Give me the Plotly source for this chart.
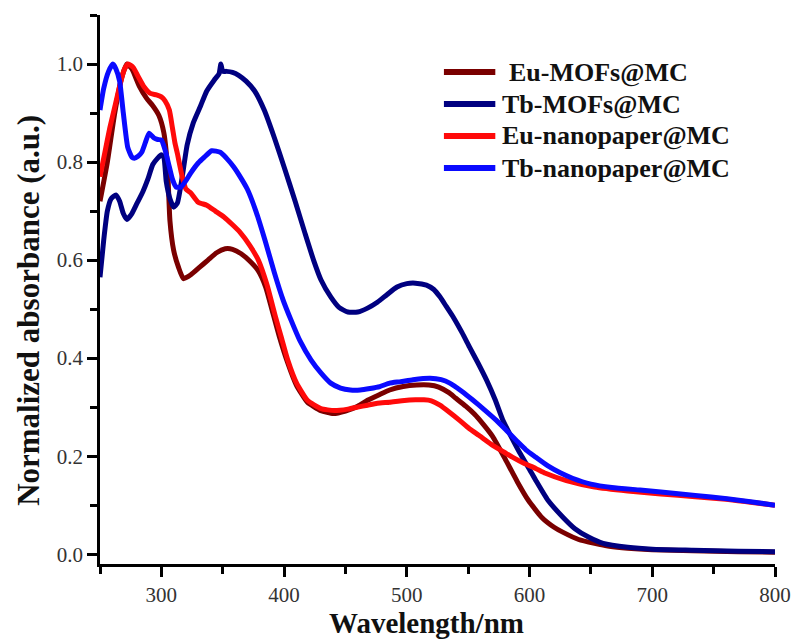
import plotly.graph_objects as go

# UV-vis absorbance spectra, normalized
eu_mof_x = [250, 256, 262, 268, 272, 276, 282, 288, 293, 298, 302, 305, 307, 310, 314, 318, 324, 331, 338, 345,
            352, 358, 365, 372, 379, 385, 390, 396, 403, 410, 419, 430, 440, 450, 460, 468, 478, 486, 497, 508,
            518, 526, 534, 540, 548, 555, 562, 570, 580, 590, 599, 610, 620, 627, 640, 653, 665, 680, 700, 733,
            770, 800]
eu_mof_y = [0.72, 0.80, 0.90, 0.975, 1.0, 0.99, 0.955, 0.93, 0.915, 0.895, 0.86, 0.79, 0.68, 0.62, 0.585, 0.562,
            0.57, 0.585, 0.60, 0.615, 0.623, 0.622, 0.613, 0.598, 0.578, 0.545, 0.50, 0.445, 0.39, 0.345, 0.31,
            0.293, 0.287, 0.292, 0.302, 0.314, 0.326, 0.335, 0.342, 0.345, 0.345, 0.341, 0.330, 0.318, 0.302, 0.286,
            0.266, 0.240, 0.195, 0.148, 0.11, 0.075, 0.055, 0.045, 0.03, 0.022, 0.016, 0.012, 0.009, 0.007,
            0.005, 0.004]

tb_mof_x = [250, 253, 256, 259, 263, 266, 269, 272, 276, 280, 285, 289, 293, 297, 300, 302, 304, 307, 310, 313,
            317, 321, 326, 332, 337, 343, 347, 348.5, 350, 353, 358, 363, 369, 376, 384, 392, 400, 409, 417, 424,
            430, 438, 445, 452, 460, 468, 476, 484, 492, 500, 507, 516, 522, 527, 532, 538, 545, 551, 558, 565,
            572, 578, 585, 592, 600, 605, 615, 627, 637, 648, 660, 680, 700, 733, 770, 800]
tb_mof_y = [0.565, 0.64, 0.70, 0.725, 0.733, 0.72, 0.695, 0.683, 0.695, 0.715, 0.74, 0.765, 0.795, 0.808, 0.815,
            0.81, 0.76, 0.725, 0.708, 0.716, 0.77, 0.835, 0.88, 0.915, 0.945, 0.967, 0.98, 1.0, 0.985, 0.985,
            0.983, 0.977, 0.965, 0.945, 0.905, 0.85, 0.79, 0.72, 0.655, 0.60, 0.56, 0.525, 0.503, 0.494, 0.494,
            0.502, 0.514, 0.53, 0.545, 0.552, 0.553, 0.549, 0.54, 0.525, 0.506, 0.483, 0.452, 0.423, 0.39, 0.355,
            0.315, 0.275, 0.240, 0.207, 0.173, 0.151, 0.11, 0.076, 0.052, 0.035, 0.022, 0.014, 0.01, 0.008,
            0.006, 0.005]

eu_np_x = [250, 254, 258, 262, 266, 270, 273, 277, 281, 286, 291, 296, 300, 303, 306.5, 309, 311, 313, 317, 320,
           324, 330, 337, 344, 351, 358, 364, 372, 379, 386, 393, 398, 403, 410, 419, 430, 441, 452, 460, 468,
           476, 486, 496, 507, 514, 520, 527, 535, 543, 551, 559, 570, 580, 586, 595, 605, 613, 630, 653, 680,
           707, 735, 760, 780, 800]
eu_np_y = [0.77, 0.82, 0.87, 0.912, 0.955, 0.99, 1.0, 0.993, 0.975, 0.953, 0.94, 0.937, 0.933, 0.925, 0.906,
           0.87, 0.84, 0.818, 0.77, 0.745, 0.737, 0.718, 0.712, 0.70, 0.688, 0.672, 0.657, 0.63, 0.6, 0.55, 0.484,
           0.44, 0.396, 0.35, 0.314, 0.297, 0.293, 0.296, 0.3, 0.304, 0.308, 0.31, 0.313, 0.315, 0.315, 0.313,
           0.304, 0.289, 0.273, 0.256, 0.242, 0.222, 0.207, 0.198, 0.186, 0.175, 0.165, 0.150, 0.137, 0.129,
           0.123, 0.117, 0.112, 0.106, 0.1]

tb_np_x = [250, 253, 257, 260.5, 263, 266, 269, 272.6, 276, 278, 281, 284, 287, 290, 294, 297, 300, 303, 306.5,
           309, 312, 316, 320, 324, 330, 335, 341, 348, 353, 359, 363, 370, 377, 384.5, 392, 399, 405.6, 413,
           422, 430, 438, 446, 454, 462, 470, 478, 486, 495, 505, 519, 528, 535, 545, 554, 563, 573, 581, 590,
           597, 605, 615, 625, 635, 650, 667, 690, 707, 735, 761, 780, 800]
tb_np_y = [0.906, 0.95, 0.985, 1.0, 0.99, 0.965, 0.9, 0.83, 0.81, 0.808, 0.812, 0.82, 0.84, 0.859, 0.849, 0.846,
           0.845, 0.825, 0.79, 0.765, 0.749, 0.749, 0.762, 0.778, 0.798, 0.81, 0.823, 0.82, 0.808, 0.79, 0.775,
           0.745, 0.70, 0.64, 0.575, 0.52, 0.478, 0.435, 0.396, 0.37, 0.349, 0.339, 0.335, 0.335, 0.338, 0.342,
           0.349, 0.352, 0.356, 0.359, 0.356, 0.349, 0.332, 0.314, 0.295, 0.273, 0.253, 0.23, 0.213, 0.198, 0.18,
           0.166, 0.155, 0.143, 0.136, 0.131, 0.127, 0.12, 0.113, 0.107, 0.1]

series_names = ["Eu-MOFs@MC", "Tb-MOFs@MC", "Eu-nanopaper@MC", "Tb-nanopaper@MC"]
series_x = [eu_mof_x, tb_mof_x, eu_np_x, tb_np_x]
series_y = [eu_mof_y, tb_mof_y, eu_np_y, tb_np_y]
series_colors = ["#7a0000", "#000080", "#ff0a0a", "#0a0aff"]

x_ticks = [300, 400, 500, 600, 700, 800]
y_ticks = [0.0, 0.2, 0.4, 0.6, 0.8, 1.0]
y_tick_text = ["0.0", "0.2", "0.4", "0.6", "0.8", "1.0"]

SERIF = "Liberation Serif, Times New Roman, serif"
W, H = 803, 642
M = dict(l=100, r=20, t=15, b=78)
PW = W - M["l"] - M["r"]
PH = H - M["t"] - M["b"]


def px_to_paper(px, py):
    return (px - M["l"]) / PW, (H - M["b"] - py) / PH


fig = go.Figure()
for name, xs, ys, color in zip(series_names, series_x, series_y, series_colors):
    fig.add_trace(go.Scatter(
        x=xs, y=ys, name=name, mode="lines", showlegend=False,
        line=dict(color=color, width=5, shape="spline", smoothing=0.5),
    ))

axis_common = dict(
    showline=True, linecolor="black", linewidth=2.5,
    ticks="outside", ticklen=10, tickwidth=2.5, tickcolor="black",
    showgrid=False, zeroline=False, mirror=False,
    tickfont=dict(family=SERIF, size=21, color="#333333"),
)

fig.update_xaxes(
    range=[250, 800], tickvals=x_ticks,
    minor=dict(dtick=50, tick0=250, ticks="outside", ticklen=7, tickwidth=2.5, tickcolor="black"),
    **axis_common,
)
fig.update_yaxes(
    range=[-0.02, 1.1], tickvals=y_ticks, ticktext=y_tick_text,
    minor=dict(dtick=0.1, tick0=0, ticks="outside", ticklen=7, tickwidth=2.5, tickcolor="black"),
    **axis_common,
)

title_font = dict(family=SERIF, size=29, color="#111111", weight="bold")
tx, ty = px_to_paper(430, 623)
fig.add_annotation(text="Wavelength/nm", xref="paper", yref="paper", x=tx, y=ty,
                   xanchor="center", yanchor="middle", showarrow=False, font=title_font)
tx, ty = px_to_paper(27, 310)
fig.add_annotation(text="Normalized absorbance (a.u.)", xref="paper", yref="paper", x=tx, y=ty,
                   xanchor="center", yanchor="middle", textangle=-90, showarrow=False,
                   font=dict(title_font, size=31))

# legend: line swatch plus bold label per series
legend_font = dict(family=SERIF, size=26, color="#111111", weight="bold")
for i, (name, color) in enumerate(zip(series_names, series_colors)):
    row_y = 72 + 32 * i
    x0, y0 = px_to_paper(448, row_y)
    x1, _ = px_to_paper(500, row_y)
    fig.add_shape(type="line", xref="paper", yref="paper", x0=x0, x1=x1, y0=y0, y1=y0,
                  line=dict(color=color, width=6))
    lx, _ = px_to_paper(512 if i == 0 else 505, row_y)
    fig.add_annotation(text=name, xref="paper", yref="paper", x=lx, y=y0,
                       xanchor="left", yanchor="middle", showarrow=False, font=legend_font)

fig.update_layout(
    width=W, height=H,
    margin=M,
    paper_bgcolor="white", plot_bgcolor="white",
    showlegend=False,
)

fig.write_html("out.html")
